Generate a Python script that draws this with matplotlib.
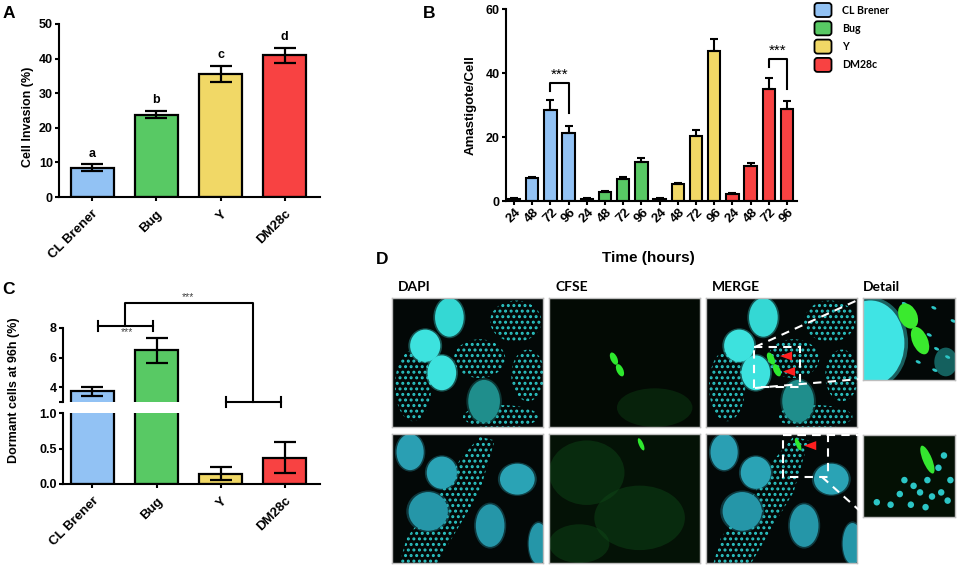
#!/usr/bin/env python3
"""
Rebuild the four-panel T. cruzi strain figure (invasion, amastigotes,
dormant cells and the CFSE microscopy sketch) and save it as out.png.
"""

import matplotlib

matplotlib.use("Agg")

import matplotlib.pyplot as plt
import numpy as np
from matplotlib.patches import Ellipse, FancyBboxPatch, Polygon, Rectangle
from matplotlib.transforms import ScaledTranslation


W, H = 957, 565

STRAINS = ["CL Brener", "Bug", "Y", "DM28c"]
STRAIN_COLORS = ["#92c2f4", "#58c964", "#f1d866", "#f84242"]

# Panel A: cell invasion (%)
INVASION = [8.5, 23.8, 35.5, 41.0]
INVASION_ERR = [0.9, 1.1, 2.3, 2.2]
INVASION_LETTERS = ["a", "b", "c", "d"]

# Panel B: amastigotes per cell, 24/48/72/96 h for each strain
HOURS = ["24", "48", "72", "96"]
AMA_CL = [0.6, 7.1, 28.4, 21.1]
AMA_CL_ERR = [0.3, 0.5, 3.2, 2.4]
AMA_BUG = [0.6, 2.7, 6.9, 12.1]
AMA_BUG_ERR = [0.3, 0.5, 0.7, 1.2]
AMA_Y = [0.6, 5.2, 20.3, 46.9]
AMA_Y_ERR = [0.3, 0.5, 2.0, 3.6]
AMA_DM = [2.2, 11.0, 35.0, 28.8]
AMA_DM_ERR = [0.4, 1.0, 3.3, 2.3]

# Panel C: dormant cells at 96 h (%)
DORMANT = [3.7, 6.5, 0.145, 0.37]
DORMANT_ERR = [0.3, 0.85, 0.095, 0.22]

# Panel D: sketch of the fluorescence images (positions as image fractions)
IMAGE_TITLES = ["DAPI", "CFSE", "MERGE", "Detail"]
TOP_NUCLEI = [
    (0.38, 0.15, 0.19, 0.30, "#34d8d4"),
    (0.22, 0.37, 0.20, 0.25, "#3de2de"),
    (0.33, 0.58, 0.19, 0.27, "#3de2de"),
    (0.61, 0.80, 0.21, 0.33, "#1f8e8c"),
]
TOP_CLUSTERS = [
    (0.14, 0.68, 0.24, 0.55),
    (0.82, 0.18, 0.34, 0.32),
    (0.90, 0.60, 0.22, 0.40),
    (0.58, 0.47, 0.34, 0.30),
    (0.72, 0.92, 0.50, 0.18),
]
BOTTOM_NUCLEI = [
    (0.12, 0.14, 0.18, 0.28, "#2a9fb3"),
    (0.33, 0.30, 0.20, 0.25, "#2aa3b5"),
    (0.83, 0.35, 0.23, 0.24, "#2aa3b5"),
    (0.24, 0.60, 0.26, 0.30, "#2596a8"),
    (0.65, 0.71, 0.19, 0.33, "#2596a8"),
    (0.97, 0.85, 0.13, 0.32, "#2596a8"),
]
BOTTOM_BAND = [
    (0.58, 0.02), (0.68, 0.05), (0.58, 0.45), (0.40, 0.80),
    (0.30, 1.0), (0.05, 1.0), (0.10, 0.80), (0.30, 0.50), (0.45, 0.20),
]
TOP_GREEN = [(0.43, 0.47, 0.045, 0.10), (0.47, 0.56, 0.045, 0.10)]
BOTTOM_GREEN = [(0.61, 0.08, 0.03, 0.10)]
TOP_ARROWS = [(0.53, 0.45), (0.55, 0.57)]
BOTTOM_ARROWS = [(0.69, 0.09)]
TOP_BOX = (0.32, 0.38, 0.62, 0.69)
BOTTOM_BOX = (0.51, 0.01, 0.81, 0.33)
DETAIL_TOP_GREEN = [(0.49, 0.22, 0.20, 0.32), (0.62, 0.52, 0.17, 0.35)]
DETAIL_TOP_DOTS = [
    (0.45, 0.07), (0.77, 0.12), (0.98, 0.28), (0.72, 0.45),
    (0.80, 0.62), (0.60, 0.78), (0.78, 0.88), (0.92, 0.72),
]
DETAIL_BOTTOM_DOTS = [
    (0.88, 0.25), (0.82, 0.40), (0.70, 0.55), (0.45, 0.55), (0.55, 0.62),
    (0.62, 0.70), (0.40, 0.72), (0.75, 0.75), (0.85, 0.70), (0.92, 0.80),
    (0.30, 0.85), (0.52, 0.85), (0.68, 0.88), (0.15, 0.82), (0.95, 0.55),
]

plt.rcParams["font.family"] = "Liberation Sans"
plt.rcParams["font.weight"] = "bold"
plt.rcParams["hatch.linewidth"] = 1.4

fig = plt.figure(figsize=(W / 100, H / 100), dpi=100)


def px_axes(x0, y0, x1, y1, **kwargs):
    return fig.add_axes([x0 / W, 1 - y1 / H, (x1 - x0) / W, (y1 - y0) / H], **kwargs)


def fig_text(x, y, text, **kwargs):
    fig.text(x / W, 1 - y / H, text, **kwargs)


def style_axis(ax, bottom=True):
    for side in ["top", "right"]:
        ax.spines[side].set_visible(False)
    ax.spines["left"].set_linewidth(1.5)
    ax.spines["bottom"].set_linewidth(1.5)
    if not bottom:
        ax.spines["bottom"].set_visible(False)
    ax.tick_params(width=1.5, length=3, labelsize=9, pad=1.5)


def strain_ticklabels(ax, positions):
    ax.set_xticks(positions)
    ax.set_xticklabels(STRAINS, rotation=45, ha="right", va="center",
                       rotation_mode="anchor", fontsize=9.5)
    ax.tick_params(axis="x", pad=8)
    shift = ScaledTranslation(4 / 100, 0, fig.dpi_scale_trans)
    for label in ax.get_xticklabels():
        label.set_transform(label.get_transform() + shift)


# ---------------- Panel A ----------------
ax_a = px_axes(59, 24, 320, 197)
xa = np.arange(len(STRAINS))
ax_a.bar(xa, INVASION, width=0.67, color=STRAIN_COLORS, edgecolor="black",
         linewidth=1.6, zorder=2)
ax_a.errorbar(xa, INVASION, yerr=INVASION_ERR, fmt="none", ecolor="black",
              elinewidth=1.6, capsize=8, capthick=1.6, zorder=3)
for xi, value, err, letter in zip(xa, INVASION, INVASION_ERR, INVASION_LETTERS):
    ax_a.text(xi, value + err + 1.4, letter, ha="center", va="bottom", fontsize=9)
ax_a.set_xlim(-0.52, 3.55)
ax_a.set_ylim(0, 50)
ax_a.set_yticks(range(0, 51, 10))
style_axis(ax_a)
strain_ticklabels(ax_a, xa)
fig_text(28, 117, "Cell Invasion (%)", rotation=90, ha="center", va="center",
         fontsize=9)

# ---------------- Panel B ----------------
ax_b = px_axes(506, 9, 797, 201)
ama_values = AMA_CL + AMA_BUG + AMA_Y + AMA_DM
ama_errors = AMA_CL_ERR + AMA_BUG_ERR + AMA_Y_ERR + AMA_DM_ERR
ama_colors = [color for color in STRAIN_COLORS for _ in HOURS]
xb = np.arange(len(ama_values))
ax_b.bar(xb, ama_values, width=0.69, color=ama_colors, edgecolor="black",
         linewidth=1.5, zorder=2)
ax_b.errorbar(xb, ama_values, yerr=[np.zeros(len(ama_errors)), ama_errors],
              fmt="none", ecolor="black", elinewidth=1.5, capsize=3.2,
              capthick=1.5, zorder=3)

for left, right, y_top, y_left, y_right in [(2, 3, 36.8, 34.5, 27.4),
                                            (14, 15, 44.3, 41.8, 34.9)]:
    ax_b.plot([left, left, right, right], [y_left, y_top, y_top, y_right],
              color="black", linewidth=1.5, zorder=4)
    ax_b.text((left + right) / 2, y_top + 0.6, "***", ha="center", va="bottom",
              fontsize=11, fontweight="normal")

ax_b.set_xlim(-0.44, 15.55)
ax_b.set_ylim(0, 60)
ax_b.set_yticks(range(0, 61, 20))
style_axis(ax_b)
ax_b.set_xticks(xb)
ax_b.set_xticklabels(HOURS * len(STRAINS), rotation=45, ha="center", va="top",
                     fontsize=9.5)
ax_b.tick_params(axis="x", pad=1)
fig_text(471, 105, "Amastigote/Cell", rotation=90, ha="center", va="center",
         fontsize=9.5)
fig_text(648, 258, "Time (hours)", ha="center", va="center", fontsize=11)

# legend for panel B
ax_leg = px_axes(805, 0, 957, 80)
ax_leg.set_xlim(805, 957)
ax_leg.set_ylim(80, 0)
ax_leg.axis("off")
for row, (name, color) in enumerate(zip(STRAINS, STRAIN_COLORS)):
    yc = 10 + row * 18.3
    ax_leg.add_patch(FancyBboxPatch((814.5, yc - 7), 17, 14,
                                    boxstyle="round,pad=0,rounding_size=3",
                                    facecolor=color, edgecolor="black",
                                    linewidth=1.3))
    ax_leg.text(842, yc, name, ha="left", va="center", fontsize=7.6,
                family="Lato", fontweight="bold")

# ---------------- Panel C ----------------
ax_cu = px_axes(63, 328, 320, 401.75)
ax_cl = px_axes(63, 413, 320, 484)
xc = np.arange(len(STRAINS))
for ax in (ax_cu, ax_cl):
    ax.bar(xc, DORMANT, width=0.67, color=STRAIN_COLORS, edgecolor="black",
           linewidth=1.6, zorder=2)
    ax.errorbar(xc, DORMANT, yerr=DORMANT_ERR, fmt="none", ecolor="black",
                elinewidth=1.6, capsize=8, capthick=1.6, zorder=3)
    ax.set_xlim(-0.46, 3.55)

ax_cu.set_ylim(3, 8)
ax_cu.set_yticks([3, 4, 6, 8])
ax_cu.set_yticklabels(["", "4", "6", "8"])
style_axis(ax_cu, bottom=False)
ax_cu.set_xticks([])

ax_cl.set_ylim(0, 1)
ax_cl.set_yticks([0, 0.5, 1.0])
ax_cl.set_yticklabels(["0.0", "0.5", "1.0"])
style_axis(ax_cl)
strain_ticklabels(ax_cl, xc)

# significance brackets (upper axis data units, drawn outside the axis)
bracket_style = dict(color="black", linewidth=1.5, clip_on=False, zorder=5)
ax_cu.plot([0.08, 0.95], [8.14, 8.14], **bracket_style)
ax_cu.plot([0.08, 0.08], [7.8, 8.48], **bracket_style)
ax_cu.plot([0.95, 0.95], [7.8, 8.48], **bracket_style)
ax_cu.plot([0.515, 0.515, 2.51, 2.51], [8.14, 9.69, 9.69, 2.98], **bracket_style)
ax_cu.plot([2.08, 2.94], [2.98, 2.98], **bracket_style)
ax_cu.plot([2.08, 2.08], [2.64, 3.32], **bracket_style)
ax_cu.plot([2.94, 2.94], [2.64, 3.32], **bracket_style)
ax_cu.text(0.54, 7.73, "***", ha="center", va="center", fontsize=7.5,
           fontweight="normal", color="#444444", clip_on=False)
ax_cu.text(1.49, 10.1, "***", ha="center", va="center", fontsize=7.5,
           fontweight="normal", color="#444444", clip_on=False)
fig_text(14, 390, "Dormant cells at 96h (%)", rotation=90, ha="center",
         va="center", fontsize=9)

# ---------------- Panel D ----------------
CYAN_DOT = "#2cc6c6"


def image_axes(x0, y0, x1, y1, background="#030807"):
    ax = px_axes(x0, y0, x1, y1)
    ax.set_xlim(0, 1)
    ax.set_ylim(1, 0)
    ax.set_facecolor(background)
    ax.set_xticks([])
    ax.set_yticks([])
    for spine in ax.spines.values():
        spine.set_color("#bdbdbd")
        spine.set_linewidth(1)
    return ax


def draw_dapi(ax, nuclei, clusters=None, band=None):
    if clusters:
        for cx, cy, w, h in clusters:
            ax.add_patch(Ellipse((cx, cy), w, h, facecolor="none",
                                 edgecolor=CYAN_DOT, linewidth=0, hatch="..."))
    if band:
        ax.add_patch(Polygon(band, closed=True, facecolor="none",
                             edgecolor=CYAN_DOT, linewidth=0, hatch="..."))
    for cx, cy, w, h, color in nuclei:
        ax.add_patch(Ellipse((cx, cy), w * 1.12, h * 1.08, facecolor=color,
                             alpha=0.35, linewidth=0))
        ax.add_patch(Ellipse((cx, cy), w, h, facecolor=color, linewidth=0))


def draw_green(ax, blobs, color="#2ee82e"):
    for cx, cy, w, h in blobs:
        ax.add_patch(Ellipse((cx, cy), w, h, angle=-20, facecolor=color,
                             linewidth=0, zorder=4))


def draw_arrows(ax, arrows):
    for cx, cy in arrows:
        ax.add_patch(Polygon([(cx - 0.04, cy), (cx + 0.04, cy - 0.035),
                              (cx + 0.04, cy + 0.035)], closed=True,
                             facecolor="#ff1f1f", edgecolor="none", zorder=5))


def draw_box(ax, box):
    x0, y0, x1, y1 = box
    ax.add_patch(Rectangle((x0, y0), x1 - x0, y1 - y0, facecolor="none",
                           edgecolor="white", linewidth=1.5,
                           linestyle=(0, (4, 3)), zorder=6))


COLUMNS = [(392, 543), (549, 700), (706, 857)]
TOP_ROW = (298, 427)
BOTTOM_ROW = (434, 563)

# top row
ax = image_axes(COLUMNS[0][0], TOP_ROW[0], COLUMNS[0][1], TOP_ROW[1])
draw_dapi(ax, TOP_NUCLEI, clusters=TOP_CLUSTERS)
ax = image_axes(COLUMNS[1][0], TOP_ROW[0], COLUMNS[1][1], TOP_ROW[1], "#030a04")
ax.add_patch(Ellipse((0.7, 0.85), 0.5, 0.3, facecolor="#0c3a12", alpha=0.5,
                     linewidth=0))
draw_green(ax, TOP_GREEN)
ax = image_axes(COLUMNS[2][0], TOP_ROW[0], COLUMNS[2][1], TOP_ROW[1])
draw_dapi(ax, TOP_NUCLEI, clusters=TOP_CLUSTERS)
draw_green(ax, TOP_GREEN)
draw_arrows(ax, TOP_ARROWS)
draw_box(ax, TOP_BOX)

# bottom row
ax = image_axes(COLUMNS[0][0], BOTTOM_ROW[0], COLUMNS[0][1], BOTTOM_ROW[1])
draw_dapi(ax, BOTTOM_NUCLEI, band=BOTTOM_BAND)
ax = image_axes(COLUMNS[1][0], BOTTOM_ROW[0], COLUMNS[1][1], BOTTOM_ROW[1], "#041206")
for cx, cy, w, h in [(0.25, 0.3, 0.5, 0.5), (0.6, 0.65, 0.6, 0.5), (0.2, 0.85, 0.4, 0.3)]:
    ax.add_patch(Ellipse((cx, cy), w, h, facecolor="#0f4a18", alpha=0.45,
                         linewidth=0))
draw_green(ax, BOTTOM_GREEN)
ax = image_axes(COLUMNS[2][0], BOTTOM_ROW[0], COLUMNS[2][1], BOTTOM_ROW[1])
draw_dapi(ax, BOTTOM_NUCLEI, band=BOTTOM_BAND)
draw_green(ax, BOTTOM_GREEN)
draw_arrows(ax, BOTTOM_ARROWS)
draw_box(ax, BOTTOM_BOX)

# detail images
ax = image_axes(863, 298, 955, 380)
ax.add_patch(Ellipse((0.9, 0.78), 0.25, 0.35, facecolor="#14605e", linewidth=0))
ax.add_patch(Ellipse((0.08, 0.55), 0.82, 1.12, facecolor="#3fe4e4", alpha=0.4,
                     linewidth=0))
ax.add_patch(Ellipse((0.08, 0.55), 0.74, 1.04, facecolor="#3fe4e4", linewidth=0))
for cx, cy in DETAIL_TOP_DOTS:
    ax.add_patch(Ellipse((cx, cy), 0.06, 0.035, angle=30, facecolor=CYAN_DOT,
                         linewidth=0))
draw_green(ax, DETAIL_TOP_GREEN, color="#3aea2e")

ax = image_axes(863, 435, 955, 517, "#041004")
for cx, cy in DETAIL_BOTTOM_DOTS:
    ax.add_patch(Ellipse((cx, cy), 0.07, 0.08, facecolor=CYAN_DOT, linewidth=0))
draw_green(ax, [(0.70, 0.30, 0.10, 0.36)], color="#35e630")

# zoom lines from the MERGE boxes to the detail images
ax_over = px_axes(0, 0, W, H, zorder=10)
ax_over.set_xlim(0, W)
ax_over.set_ylim(H, 0)
ax_over.axis("off")
for (x0, y0), (x1, y1) in [((755, 347), (860, 299)), ((755, 388), (860, 379)),
                           ((783, 435), (860, 435)), ((822, 477), (860, 511))]:
    ax_over.plot([x0, x1], [y0, y1], color="white", linewidth=1.5,
                 linestyle=(0, (4, 3)))

for (left, _), title in zip(COLUMNS + [(863, 955)], IMAGE_TITLES):
    fig_text(left + (6 if title != "Detail" else 0), 287, title, ha="left",
             va="center", fontsize=10, family="Lato", fontweight="bold")

# panel letters
for x, y, letter in [(3, 13, "A"), (423, 13, "B"), (2, 290, "C"), (376, 260, "D")]:
    fig_text(x, y, letter, ha="left", va="center", fontsize=12.5)

fig.savefig("out.png", dpi=100)
